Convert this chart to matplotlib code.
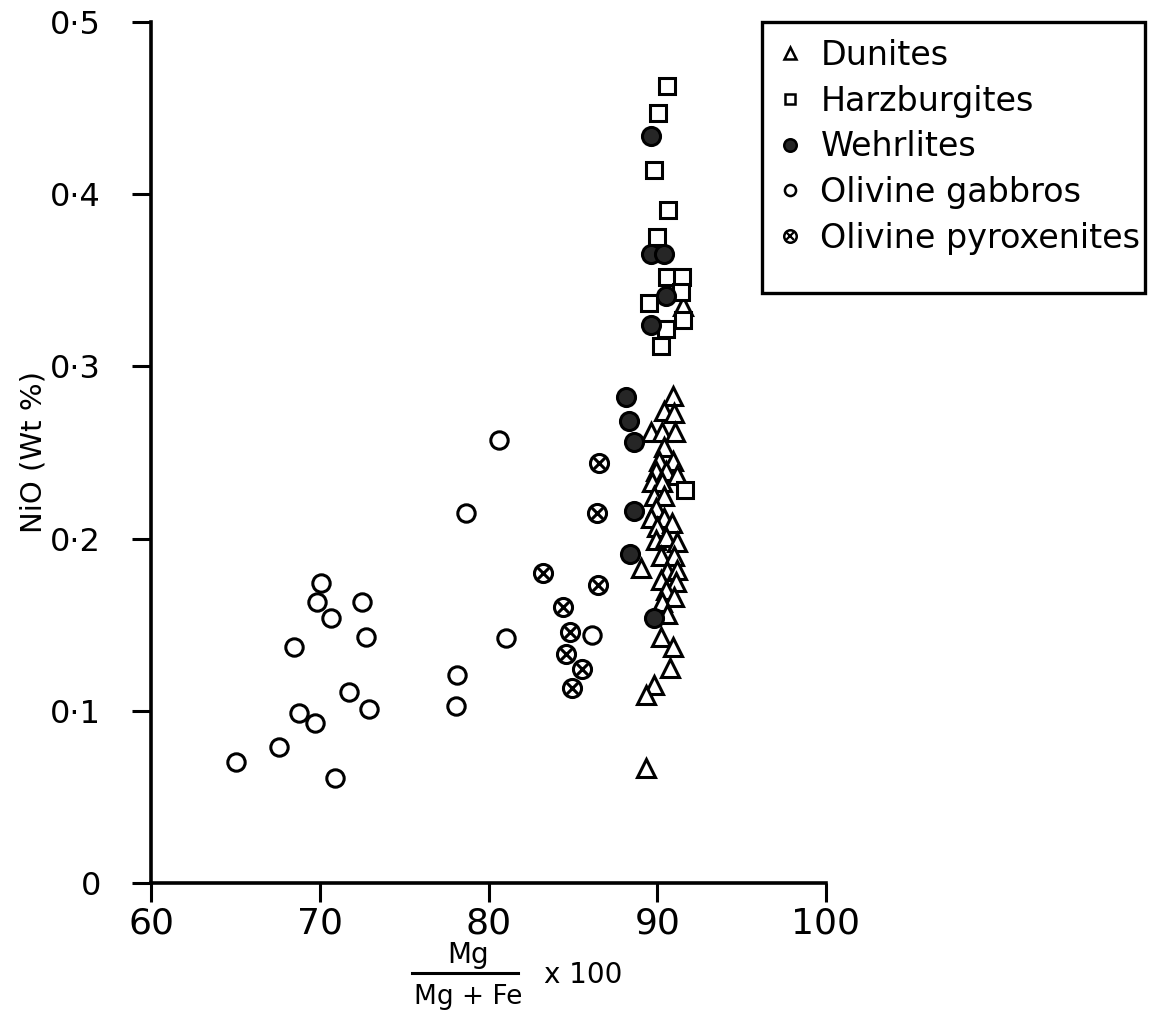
import matplotlib
matplotlib.use("Agg")
import matplotlib.pyplot as plt
from matplotlib.lines import Line2D
from matplotlib.patches import Rectangle

plt.rcParams['font.family'] = ['DejaVu Sans']

# Mg/(Mg+Fe) x 100 and NiO (wt %) for each rock type
dunite_x = [90.95, 90.40, 90.99, 89.64, 90.30, 91.04, 90.40, 90.10, 90.95, 89.90,
            90.49, 91.18, 89.70, 90.30, 89.80, 90.40, 89.90, 89.61, 90.40, 90.00,
            90.89, 89.90, 90.49, 91.18, 90.20, 90.99, 89.01, 90.59, 91.18, 90.20,
            91.09, 90.49, 90.99, 90.30, 90.59, 90.24, 90.95, 90.75, 89.80, 89.31,
            89.31, 91.54]
dunite_y = [0.283, 0.274, 0.273, 0.262, 0.262, 0.262, 0.253, 0.245, 0.245, 0.239,
            0.239, 0.237, 0.233, 0.233, 0.225, 0.225, 0.218, 0.212, 0.212, 0.207,
            0.209, 0.199, 0.201, 0.198, 0.190, 0.190, 0.183, 0.181, 0.182, 0.176,
            0.175, 0.170, 0.166, 0.163, 0.156, 0.143, 0.137, 0.125, 0.115, 0.109,
            0.067, 0.335]

harz_x = [90.59, 90.06, 89.80, 90.63, 90.00, 90.59, 91.48, 91.38, 89.51, 91.54,
          90.49, 90.20, 91.67]
harz_y = [0.463, 0.447, 0.414, 0.391, 0.375, 0.352, 0.352, 0.343, 0.337, 0.327,
          0.322, 0.312, 0.228]

wehr_x = [89.61, 89.61, 90.40, 90.49, 89.61, 88.13, 88.32, 88.62, 88.62, 88.38, 89.80]
wehr_y = [0.434, 0.365, 0.365, 0.341, 0.324, 0.282, 0.268, 0.256, 0.216, 0.191, 0.154]

gabbro_x = [65.01, 67.57, 68.50, 68.76, 69.74, 69.82, 70.08, 70.67, 70.91, 71.76,
            72.51, 72.74, 72.94, 78.11, 78.07, 78.68, 80.60, 81.02, 86.11]
gabbro_y = [0.070, 0.079, 0.137, 0.099, 0.093, 0.163, 0.174, 0.154, 0.061, 0.111,
            0.163, 0.143, 0.101, 0.121, 0.103, 0.215, 0.257, 0.142, 0.144]

pyrox_x = [86.55, 86.45, 83.24, 86.51, 84.44, 84.83, 84.58, 85.52, 84.97]
pyrox_y = [0.244, 0.215, 0.180, 0.173, 0.160, 0.146, 0.133, 0.124, 0.113]

x_ticks = [60, 70, 80, 90, 100]
x_tick_labels = ['60', '70', '80', '90', '100']
y_ticks = [0, 0.1, 0.2, 0.3, 0.4, 0.5]
y_tick_labels = ['0', '0·1', '0·2', '0·3', '0·4', '0·5']

fig = plt.figure(figsize=(11.52, 10.27), dpi=100)
ax = fig.add_axes([0.1311, 0.1402, 0.5859, 0.8384])

ms = 12.5
mew = 2.2
ax.plot(dunite_x, dunite_y, ls='none', marker='^', ms=ms, mfc='white', mec='black', mew=mew, zorder=3)
ax.plot(harz_x, harz_y, ls='none', marker='s', ms=ms - 1.5, mfc='white', mec='black', mew=mew, zorder=3)
ax.plot(wehr_x, wehr_y, ls='none', marker='o', ms=ms + 0.5, mfc='#262626', mec='black', mew=mew, zorder=4)
ax.plot(gabbro_x, gabbro_y, ls='none', marker='o', ms=ms, mfc='white', mec='black', mew=mew, zorder=3)
ax.plot(pyrox_x, pyrox_y, ls='none', marker='o', ms=ms + 0.5, mfc='white', mec='black', mew=mew, zorder=4)
ax.plot(pyrox_x, pyrox_y, ls='none', marker='x', ms=ms * 0.72, mec='black', mew=mew, zorder=5)

ax.set_xlim(60, 100)
ax.set_ylim(0, 0.5)
ax.set_xticks(x_ticks)
ax.set_xticklabels(x_tick_labels, fontsize=26)
ax.set_yticks(y_ticks)
ax.set_yticklabels(y_tick_labels, fontsize=23)
ax.tick_params(axis='both', direction='out', length=14, width=2.2, color='black')
ax.tick_params(axis='x', pad=3)
ax.tick_params(axis='y', pad=22)
for side in ('top', 'right'):
    ax.spines[side].set_visible(False)
for side in ('left', 'bottom'):
    ax.spines[side].set_linewidth(2.6)

ax.set_ylabel('NiO (Wt %)', fontsize=21, labelpad=2)

# x-axis label written as a fraction
fig.text(0.406, 0.070, 'Mg', fontsize=20, ha='center', va='center')
fig.add_artist(Line2D([0.358, 0.450], [0.0525, 0.0525], color='black', lw=2.2,
                      transform=fig.transFigure))
fig.text(0.406, 0.029, 'Mg + Fe', fontsize=19, ha='center', va='center')
fig.text(0.472, 0.051, 'x 100', fontsize=20, ha='left', va='center')

lsz = 8
handles = [
    Line2D([], [], ls='none', marker='^', ms=lsz, mfc='white', mec='black', mew=1.8),
    Line2D([], [], ls='none', marker='s', ms=lsz - 1, mfc='white', mec='black', mew=1.8),
    Line2D([], [], ls='none', marker='o', ms=lsz + 1, mfc='#262626', mec='black', mew=1.8),
    Line2D([], [], ls='none', marker='o', ms=lsz, mfc='white', mec='black', mew=1.8),
    (Line2D([], [], ls='none', marker='o', ms=lsz + 1, mfc='white', mec='black', mew=1.8),
     Line2D([], [], ls='none', marker='x', ms=lsz * 0.7, mec='black', mew=1.6)),
]
labels = ['Dunites', 'Harzburgites', 'Wehrlites', 'Olivine gabbros', 'Olivine pyroxenites']
leg = fig.legend(handles, labels, loc='upper left', bbox_to_anchor=(0.676, 0.962),
                 fontsize=24, frameon=False, handlelength=0.7, handletextpad=0.55,
                 labelspacing=0.38, borderpad=0, borderaxespad=0)

# legend box, with extra room below the last entry
fig.add_artist(Rectangle((0.6615, 0.7147), 0.3325, 0.2639, transform=fig.transFigure,
                         fill=False, edgecolor='black', lw=2.4))

fig.savefig('out.png', dpi=100, facecolor='white')
